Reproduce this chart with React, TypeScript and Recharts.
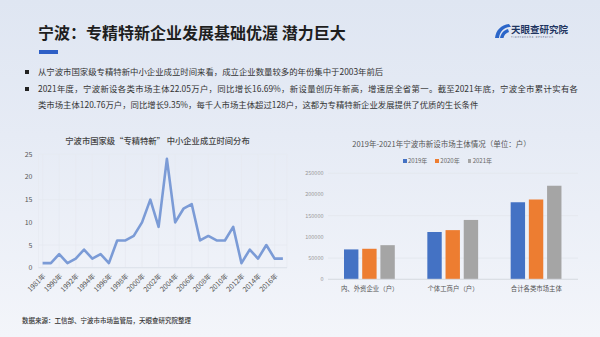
import React from 'react';
import { LineChart, Line, XAxis, YAxis, CartesianGrid, BarChart, Bar } from 'recharts';

const FONT = '"Noto Sans CJK SC", "Noto Sans", sans-serif';

// Left chart: founding year distribution
const foundYears = ['1981年','1989年','1990年','1991年','1992年','1993年','1994年','1995年','1996年','1997年','1998年','1999年','2000年','2001年','2002年','2003年','2004年','2005年','2006年','2007年','2008年','2009年','2010年','2011年','2012年','2013年','2014年','2015年','2016年','2017年'];
const foundCounts = [1,1,3,1,2,4,2,3,1,6,6,7,10,15,9,24,10,13,14,6,7,6,6,9,1,4,2,5,2,2];
const lineTicks = [0,5,10,15,20,25];

// Right chart: new market entities
const barCategories = ['内、外资企业（户）','个体工商户（户）','合计各类市场主体'];
const v2019 = [70500,111500,182000];
const v2020 = [72000,116000,188000];
const v2021 = [80500,140000,220500];
const barTicks = [0,50000,100000,150000,200000,250000];
const barSeries = [
  { key: 'y2019', name: '2019年', color: '#4472c4', values: v2019 },
  { key: 'y2020', name: '2020年', color: '#ed7d31', values: v2020 },
  { key: 'y2021', name: '2021年', color: '#a5a5a5', values: v2021 },
];

const lineData = foundYears.map((y, i) => ({ year: y, count: foundCounts[i] }));
const barData = barCategories.map((c, i) => {
  const row: any = { cat: c };
  barSeries.forEach(s => { row[s.key] = s.values[i]; });
  return row;
});

const title = '宁波：专精特新企业发展基础优渥 潜力巨大';
const bullet1 = '从宁波市国家级专精特新中小企业成立时间来看，成立企业数量较多的年份集中于2003年前后';
const bullet2a = '2021年度，宁波新设各类市场主体22.05万户，同比增长16.69%，新设量创历年新高，增速居全省第一。截至2021年底，宁波全市累计实有各';
const bullet2b = '类市场主体120.76万户，同比增长9.35%，每千人市场主体超过128户，这都为专精特新企业发展提供了优质的生长条件';
const leftTitle = '宁波市国家级“专精特新” 中小企业成立时间分布';
const rightTitle = '2019年-2021年宁波市新设市场主体情况（单位：户）';
const source = '数据来源：工信部、宁波市市场监管局，天眼查研究院整理';

function T({ x, cy, fs, children, color = '#333', weight = 400, style = {} }: any) {
  return (
    <div style={{ position: 'absolute', left: x, top: cy - 0.556 * fs, fontSize: fs, lineHeight: `${fs}px`, color, fontWeight: weight, whiteSpace: 'nowrap', ...style }}>
      {children}
    </div>
  );
}

const RotTick = (props: any) => {
  const { x, y, payload } = props;
  const tx = x + 2;
  return (
    <text x={tx} y={y} textAnchor="end" fontSize={7} fill="#555" fontFamily={FONT} dy="0.35em" transform={`rotate(-45 ${tx} ${y})`}>
      {payload.value}
    </text>
  );
};

export default function App() {
  return (
    <div style={{ position: 'absolute', left: 0, top: 0, width: 600, height: 337, overflow: 'hidden', fontFamily: FONT, background: 'linear-gradient(180deg, #dfe6f2 0%, #e6ebf5 40%, #f3f5fa 100%)' }}>
      <T x={38} cy={33} fs={16} color="#1e1e1e" weight={700}>{title}</T>
      <div style={{ position: 'absolute', left: 39, top: 50, width: 19, height: 3.5, background: '#2e5fc6' }} />

      {/* logo */}
      <svg style={{ position: 'absolute', left: 494, top: 23 }} width={18} height={16} viewBox="0 0 18 16">
        <path d="M1 15 C2 7 7 2 15 1 L17 4 C10 4 6 8 5 15 Z" fill="#2b66c9" />
        <path d="M6 15 C7 10 10 7 14 6 L15 9 C12 10 10 12 9.5 15 Z" fill="#2b66c9" />
      </svg>
      <T x={511} cy={30} fs={9.5} color="#1f3561" weight={700}>天眼查研究院</T>
      <T x={511} cy={37.5} fs={2.6} color="#56627a" style={{ letterSpacing: 0.9 }}>TianYanCha Research</T>

      {/* bullets */}
      <div style={{ position: 'absolute', left: 25, top: 70, width: 4, height: 4, background: '#222' }} />
      <T x={38} cy={72} fs={8.4} color="#333">{bullet1}</T>
      <div style={{ position: 'absolute', left: 25, top: 87, width: 4, height: 4, background: '#222' }} />
      <div style={{ position: 'absolute', left: 38, top: 89 - 0.556 * 8.4, width: 540, fontSize: 8.4, lineHeight: '8.4px', color: '#333', textAlign: 'justify', textAlignLast: 'justify', whiteSpace: 'nowrap' } as any}>{bullet2a}</div>
      <T x={38} cy={105} fs={8.4} color="#333">{bullet2b}</T>

      {/* left chart */}
      <div style={{ position: 'absolute', left: 0, top: 135, width: 315, textAlign: 'center', fontSize: 8.3, lineHeight: '10px', color: '#444', fontWeight: 500 }}>{leftTitle}</div>
      <div style={{ position: 'absolute', left: 0, top: 120 }}>
        <LineChart width={300} height={180} data={lineData} margin={{ top: 34.3, right: 13, bottom: 0, left: 8.5 }}>
          <CartesianGrid stroke="#e6eaf1" strokeWidth={0.7} />
          <XAxis dataKey="year" interval={1} tickLine={false} axisLine={{ stroke: '#dde2ea' }} tickSize={4} tickMargin={3} height={32.3} padding={{ left: 4.1, right: 4.1 }} tick={<RotTick />} />
          <YAxis domain={[0, 25]} ticks={lineTicks} width={30} tickLine={false} axisLine={false} tickSize={4} tickMargin={2} tick={{ fontSize: 7, fill: '#555', fontFamily: FONT }} />
          <Line dataKey="count" stroke="#7b9bd6" strokeWidth={2.6} dot={false} isAnimationActive={false} strokeLinejoin="round" />
        </LineChart>
      </div>
      <T x={22} cy={321} fs={6.5} color="#333" weight={500}>{source}</T>

      {/* right chart */}
      <div style={{ position: 'absolute', left: 300, top: 139, width: 283, textAlign: 'center', fontSize: 7.5, lineHeight: '10px', color: '#555' }}>{rightTitle}</div>
      <div style={{ position: 'absolute', left: 403, top: 158, display: 'flex', alignItems: 'center', fontSize: 6, lineHeight: '6px', color: '#666' }}>
        {barSeries.map(s => (
          <div key={s.key} style={{ display: 'flex', alignItems: 'center', marginRight: 8 }}>
            <div style={{ width: 3.5, height: 3.5, background: s.color, marginRight: 1.5 }} />
            <span>{s.name}</span>
          </div>
        ))}
      </div>
      <div style={{ position: 'absolute', left: 300, top: 120 }}>
        <BarChart width={300} height={180} data={barData} margin={{ top: 53.3, right: 22, bottom: 0, left: 2 }} barSize={14.4} barGap={3.8}>
          <CartesianGrid vertical={false} stroke="#e2e6ec" strokeWidth={0.8} />
          <XAxis dataKey="cat" tickLine={false} axisLine={{ stroke: '#d9dde3' }} tickSize={5} tickMargin={2} height={20.7} tick={{ fontSize: 6.4, fill: '#555', fontFamily: FONT }} />
          <YAxis domain={[0, 250000]} ticks={barTicks} width={26} tickLine={false} axisLine={false} tickSize={2} tickMargin={2.5} tick={{ fontSize: 5.5, fill: '#999', fontFamily: FONT }} />
          {barSeries.map(s => (
            <Bar key={s.key} dataKey={s.key} name={s.name} fill={s.color} isAnimationActive={false} />
          ))}
        </BarChart>
      </div>
    </div>
  );
}
